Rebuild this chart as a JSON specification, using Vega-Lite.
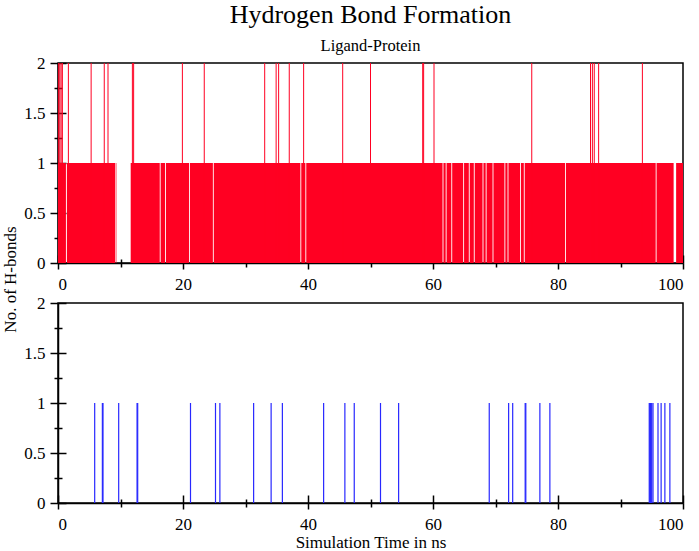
{
  "$schema": "https://vega.github.io/schema/vega-lite/v6.json",
  "background": "white",
  "padding": {"left": 0, "top": 0, "right": 10, "bottom": 5},
  "datasets": {
    "segmentsA": [
      {"t0": 0, "t1": 1.27, "hbonds": 1},
      {"t0": 1.42, "t1": 9.15, "hbonds": 1},
      {"t0": 9.25, "t1": 9.34, "hbonds": 1},
      {"t0": 11.63, "t1": 16.28, "hbonds": 1},
      {"t0": 16.42, "t1": 17.13, "hbonds": 1},
      {"t0": 17.27, "t1": 20.98, "hbonds": 1},
      {"t0": 21.12, "t1": 24.78, "hbonds": 1},
      {"t0": 24.92, "t1": 38.78, "hbonds": 1},
      {"t0": 38.92, "t1": 39.58, "hbonds": 1},
      {"t0": 39.72, "t1": 61.53, "hbonds": 1},
      {"t0": 61.67, "t1": 62.03, "hbonds": 1},
      {"t0": 62.17, "t1": 62.93, "hbonds": 1},
      {"t0": 63.07, "t1": 64.83, "hbonds": 1},
      {"t0": 64.97, "t1": 65.73, "hbonds": 1},
      {"t0": 65.87, "t1": 66.53, "hbonds": 1},
      {"t0": 66.67, "t1": 67.93, "hbonds": 1},
      {"t0": 68.07, "t1": 68.43, "hbonds": 1},
      {"t0": 68.57, "t1": 69.53, "hbonds": 1},
      {"t0": 69.67, "t1": 71.43, "hbonds": 1},
      {"t0": 71.57, "t1": 71.93, "hbonds": 1},
      {"t0": 72.07, "t1": 73.93, "hbonds": 1},
      {"t0": 74.07, "t1": 74.53, "hbonds": 1},
      {"t0": 74.67, "t1": 81.13, "hbonds": 1},
      {"t0": 81.27, "t1": 95.63, "hbonds": 1},
      {"t0": 95.77, "t1": 98.5, "hbonds": 1},
      {"t0": 98.9, "t1": 100, "hbonds": 1}
    ],
    "spikesA": [
      {"t": 0.1, "hbonds": 2}, {"t": 0.3, "hbonds": 2}, {"t": 0.5, "hbonds": 2},
      {"t": 0.7, "hbonds": 2}, {"t": 1.66, "hbonds": 2}, {"t": 5.3, "hbonds": 2},
      {"t": 7.4, "hbonds": 2}, {"t": 8.0, "hbonds": 2}, {"t": 11.9, "hbonds": 2},
      {"t": 12.1, "hbonds": 2}, {"t": 19.9, "hbonds": 2}, {"t": 23.4, "hbonds": 2},
      {"t": 33.07, "hbonds": 2}, {"t": 34.9, "hbonds": 2}, {"t": 35.3, "hbonds": 2},
      {"t": 37.0, "hbonds": 2}, {"t": 39.3, "hbonds": 2}, {"t": 45.55, "hbonds": 2},
      {"t": 50.0, "hbonds": 2}, {"t": 58.35, "hbonds": 2}, {"t": 58.5, "hbonds": 2},
      {"t": 60.16, "hbonds": 2}, {"t": 75.8, "hbonds": 2}, {"t": 85.2, "hbonds": 2},
      {"t": 85.5, "hbonds": 2}, {"t": 85.8, "hbonds": 2}, {"t": 86.5, "hbonds": 2},
      {"t": 93.5, "hbonds": 2}
    ],
    "spikesB": [
      {"t": 5.87, "hbonds": 1}, {"t": 7.1, "hbonds": 1}, {"t": 7.2, "hbonds": 1},
      {"t": 9.71, "hbonds": 1}, {"t": 12.65, "hbonds": 1}, {"t": 12.75, "hbonds": 1},
      {"t": 21.2, "hbonds": 1}, {"t": 25.2, "hbonds": 1}, {"t": 25.9, "hbonds": 1},
      {"t": 31.3, "hbonds": 1}, {"t": 34.1, "hbonds": 1}, {"t": 35.9, "hbonds": 1},
      {"t": 42.5, "hbonds": 1}, {"t": 45.9, "hbonds": 1}, {"t": 47.4, "hbonds": 1},
      {"t": 51.6, "hbonds": 1}, {"t": 54.5, "hbonds": 1}, {"t": 69.0, "hbonds": 1},
      {"t": 72.1, "hbonds": 1}, {"t": 72.75, "hbonds": 1}, {"t": 74.75, "hbonds": 1},
      {"t": 74.85, "hbonds": 1}, {"t": 77.1, "hbonds": 1}, {"t": 78.7, "hbonds": 1},
      {"t": 94.6, "hbonds": 1}, {"t": 94.7, "hbonds": 1}, {"t": 94.8, "hbonds": 1},
      {"t": 94.9, "hbonds": 1}, {"t": 95.0, "hbonds": 1}, {"t": 95.2, "hbonds": 1},
      {"t": 96.0, "hbonds": 1}, {"t": 96.5, "hbonds": 1}, {"t": 97.1, "hbonds": 1},
      {"t": 97.9, "hbonds": 1}
    ]
  },
  "bounds": "flush",
  "spacing": 40,
  "vconcat": [
    {
      "title": {
        "text": "Hydrogen Bond Formation",
        "subtitle": "Ligand-Protein",
        "frame": "group",
        "anchor": "middle",
        "offset": 0,
        "subtitlePadding": 10
      },
      "width": 625,
      "height": 200,
      "resolve": {"axis": {"x": "independent", "y": "independent"}},
      "layer": [
        {
          "data": {"name": "segmentsA"},
          "mark": {"type": "rect", "color": "#ff0022"},
          "encoding": {
            "x": {
              "field": "t0", "type": "quantitative",
              "scale": {"domain": [0, 100], "nice": false},
              "axis": {
                "orient": "bottom", "title": null,
                "values": [0, 10, 20, 30, 40, 50, 60, 70, 80, 90, 100],
                "labelExpr": "datum.value % 20 === 0 ? datum.label : ''",
                "tickSize": {"condition": {"test": "datum.value % 20 === 0", "value": 6}, "value": 4},
                "labelPadding": 7
              }
            },
            "x2": {"field": "t1"},
            "y": {
              "field": "hbonds", "type": "quantitative",
              "scale": {"domain": [0, 2], "nice": false},
              "axis": {
                "orient": "left",
                "values": [0, 0.25, 0.5, 0.75, 1, 1.25, 1.5, 1.75, 2],
                "labelExpr": "datum.value % 0.5 === 0 ? '' + datum.value : ''",
                "tickSize": {"condition": {"test": "datum.value % 0.5 === 0", "value": 8}, "value": 4},
                "labelPadding": 5,
                "title": "No. of H-bonds",
                "titleX": -43,
                "titleY": 216,
                "titleAngle": 270,
                "titleAlign": "center",
                "titleBaseline": "alphabetic"
              }
            },
            "y2": {"datum": 0}
          }
        },
        {
          "data": {"name": "spikesA"},
          "mark": {"type": "rule", "color": "#ff0022", "strokeWidth": 1},
          "encoding": {
            "x": {"field": "t", "type": "quantitative", "axis": null},
            "y": {"field": "hbonds", "type": "quantitative", "axis": null},
            "y2": {"datum": 0}
          }
        },
        {
          "mark": {"type": "text", "text": "(a)", "font": "Liberation Serif", "fontSize": 17, "color": "black", "baseline": "middle", "align": "center"},
          "encoding": {
            "x": {
              "datum": 4.8, "type": "quantitative",
              "axis": {
                "orient": "bottom", "title": null, "labels": false, "domain": false,
                "values": [0, 10, 20, 30, 40, 50, 60, 70, 80, 90, 100],
                "tickSize": {"condition": {"test": "datum.value % 20 === 0", "value": -8}, "value": -4}
              }
            },
            "y": {
              "datum": 1.8, "type": "quantitative",
              "axis": {
                "orient": "left", "title": null, "labels": false, "domain": false,
                "values": [0, 0.25, 0.5, 0.75, 1, 1.25, 1.5, 1.75, 2],
                "tickSize": {"condition": {"test": "datum.value % 0.5 === 0", "value": -8}, "value": -4}
              }
            }
          }
        }
      ]
    },
    {
      "width": 625,
      "height": 200,
      "resolve": {"axis": {"x": "independent", "y": "independent"}},
      "layer": [
        {
          "data": {"name": "spikesB"},
          "mark": {"type": "rule", "color": "#2828ff", "strokeWidth": 1.2},
          "encoding": {
            "x": {
              "field": "t", "type": "quantitative",
              "scale": {"domain": [0, 100], "nice": false},
              "axis": {
                "orient": "bottom",
                "values": [0, 10, 20, 30, 40, 50, 60, 70, 80, 90, 100],
                "labelExpr": "datum.value % 20 === 0 ? datum.label : ''",
                "tickSize": {"condition": {"test": "datum.value % 20 === 0", "value": 6}, "value": 4},
                "labelPadding": 7,
                "title": "Simulation Time in ns",
                "titleY": 44,
                "titleBaseline": "alphabetic"
              }
            },
            "y": {
              "field": "hbonds", "type": "quantitative",
              "scale": {"domain": [0, 2], "nice": false},
              "axis": {
                "orient": "left", "title": null,
                "values": [0, 0.25, 0.5, 0.75, 1, 1.25, 1.5, 1.75, 2],
                "labelExpr": "datum.value % 0.5 === 0 ? '' + datum.value : ''",
                "tickSize": {"condition": {"test": "datum.value % 0.5 === 0", "value": 8}, "value": 4},
                "labelPadding": 5
              }
            },
            "y2": {"datum": 0}
          }
        },
        {
          "mark": {"type": "text", "text": "(b)", "font": "Liberation Serif", "fontSize": 17, "color": "black", "baseline": "middle", "align": "center"},
          "encoding": {
            "x": {
              "datum": 4.6, "type": "quantitative",
              "axis": {
                "orient": "bottom", "title": null, "labels": false, "domain": false,
                "values": [0, 10, 20, 30, 40, 50, 60, 70, 80, 90, 100],
                "tickSize": {"condition": {"test": "datum.value % 20 === 0", "value": -8}, "value": -4}
              }
            },
            "y": {
              "datum": 1.85, "type": "quantitative",
              "axis": {
                "orient": "left", "title": null, "labels": false, "domain": false,
                "values": [0, 0.25, 0.5, 0.75, 1, 1.25, 1.5, 1.75, 2],
                "tickSize": {"condition": {"test": "datum.value % 0.5 === 0", "value": -8}, "value": -4}
              }
            }
          }
        }
      ]
    }
  ],
  "config": {
    "view": {"stroke": "black", "strokeWidth": 1.5},
    "axis": {
      "grid": false,
      "zindex": 1,
      "domainColor": "black",
      "domainWidth": 1.5,
      "tickColor": "black",
      "tickWidth": 1.5,
      "labelFont": "Liberation Serif",
      "labelFontSize": 17,
      "labelColor": "black",
      "titleFont": "Liberation Serif",
      "titleFontSize": 17,
      "titleFontWeight": "normal",
      "titleColor": "black"
    },
    "title": {
      "font": "Liberation Serif",
      "fontSize": 26,
      "fontWeight": "normal",
      "color": "black",
      "subtitleFont": "Liberation Serif",
      "subtitleFontSize": 16.5,
      "subtitleColor": "black"
    }
  }
}
